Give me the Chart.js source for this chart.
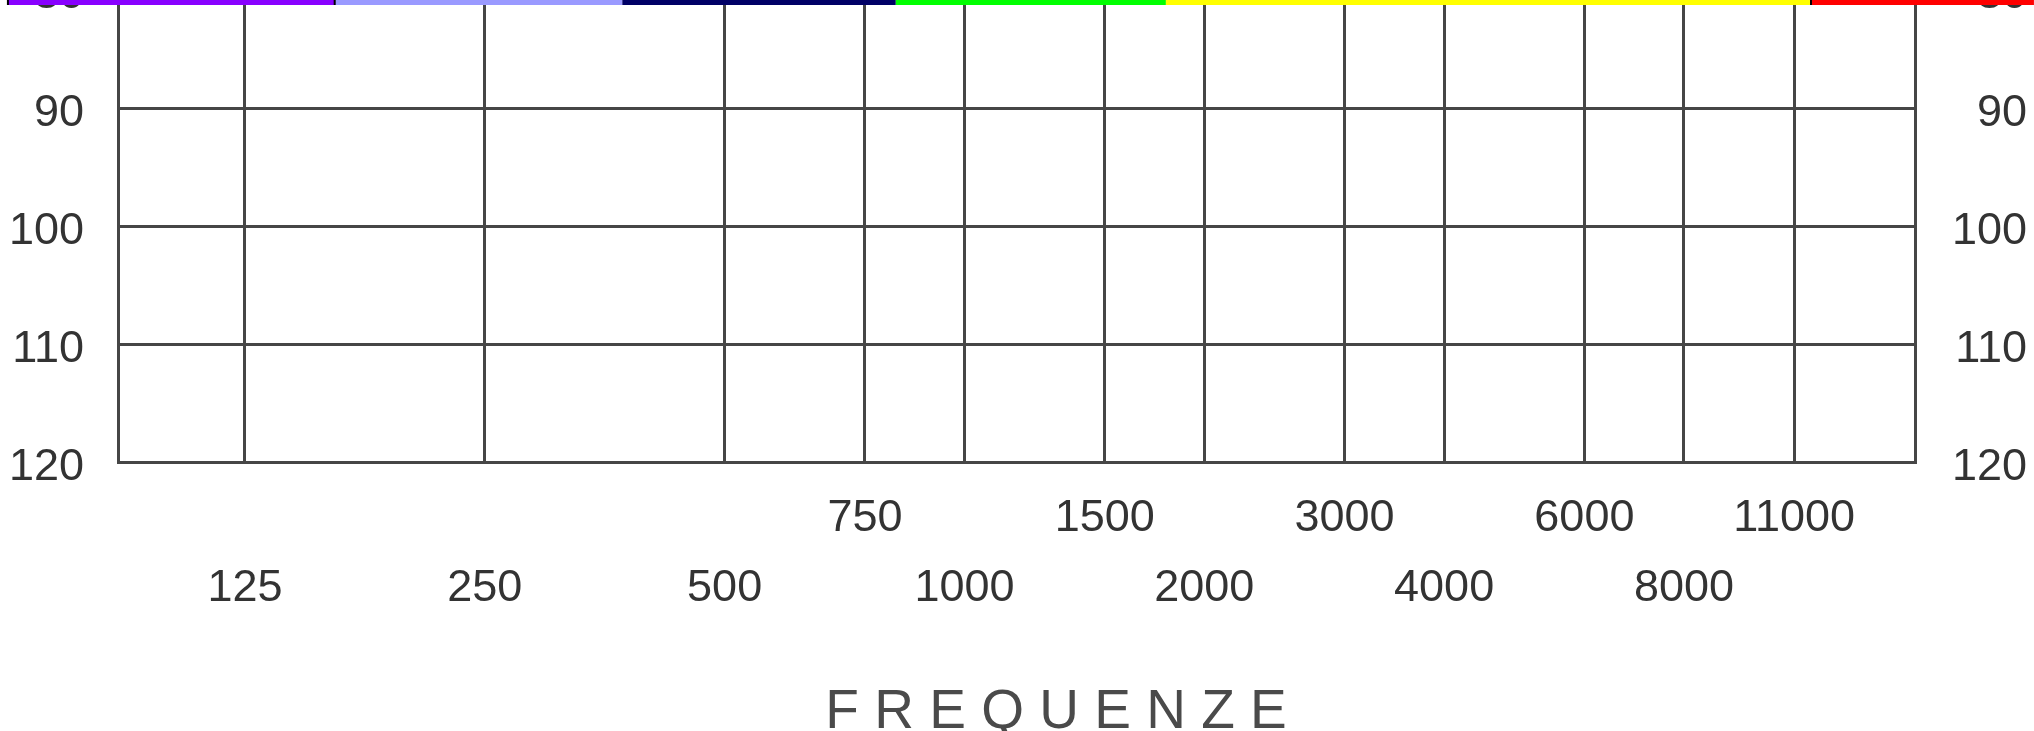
<!DOCTYPE html>
<html lang="it">

<head>
  <meta charset="UTF-8">
  <title>Audiogramma</title>
  <script src="https://cdn.jsdelivr.net/npm/chart.js"></script>
  <style>
    body { margin: 0; background: #ffffff; overflow: hidden; }
    /* the canvas is a bit taller than the window: the 80 dB line sits just above the top edge */
    #box { position: absolute; left: 0; top: -40px; width: 2034px; height: 811px; }
  </style>
</head>

<body>
  <div id="box">
    <canvas id="audiogramma" width="2034" height="811"></canvas>
  </div>

<script>
  // frequenze (Hz) con la loro linea verticale
  const frequenze = [125, 250, 500, 750, 1000, 1500, 2000, 3000, 4000, 6000, 8000, 11000];
  // queste vanno sulla riga di sopra, le altre sotto
  const rigaSopra = [750, 1500, 3000, 6000, 11000];
  // livelli (dB) sull'asse verticale
  const livelli = [80, 90, 100, 110, 120];

  // limiti dell'asse orizzontale (Hz)
  const freqMin = 86.6;
  const freqMax = 15600;

  // fasce colorate in alto: estremi in Hz
  const fasceEstremi = [63, 162, 372, 820, 1790, 11550, 22000];
  const fasceColori = ['#8800ff', '#9a9aff', '#000066', '#00ff00', '#ffff00', '#ff0000'];
  const fasceBordo = [true, true, false, false, false, true];

  const GRIGIO = '#464646';
  const TESTO = '#333333';

  Chart.defaults.font.family = '"Liberation Sans", Arial, Helvetica, sans-serif';

  // disegna la striscia delle fasce usando la scala x
  const fascePlugin = {
    id: 'fasce',
    afterDraw(chart, args, opts) {
      var ctx = chart.ctx;
      var x = chart.scales.x;
      ctx.save();
      for (let i = 0; i < fasceColori.length; i++) {
        var x0 = x.getPixelForValue(fasceEstremi[i]);
        var x1 = x.getPixelForValue(fasceEstremi[i + 1]);
        ctx.fillStyle = fasceColori[i];
        ctx.fillRect(x0, opts.y, x1 - x0, opts.altezza);
        if (fasceBordo[i]) {
          ctx.fillStyle = '#000000';
          ctx.fillRect(x0 - 1, opts.y, 2, opts.altezza);
        }
      }
      ctx.restore();
    }
  };

  function etichettaFreq(value) {
    if (rigaSopra.includes(value)) return [String(value), ''];
    return ['', String(value)];
  }

  // larghezza fissa degli assi y, senza il margine extra sopra/sotto
  function fissaAsseY(larghezza) {
    return scale => {
      scale.width = larghezza;
      scale.paddingTop = 0;
      scale.paddingBottom = 0;
    };
  }

  var ctx = document.getElementById('audiogramma').getContext('2d');

  new Chart(ctx, {
    type: 'line',
    data: { datasets: [] },
    plugins: [fascePlugin],
    options: {
      responsive: false,
      animation: false,
      devicePixelRatio: 1,
      layout: {
        padding: { top: 30, left: 85, right: 7, bottom: 25 }
      },
      scales: {
        x: {
          type: 'logarithmic',
          position: 'bottom',
          min: freqMin,
          max: freqMax,
          afterBuildTicks: scale => {
            scale.ticks = frequenze.map(v => ({ value: v }));
          },
          afterFit: scale => { scale.height = 160; },
          ticks: {
            autoSkip: false,
            maxRotation: 0,
            padding: 22,
            color: TESTO,
            font: { size: 45, lineHeight: 70 / 45 },
            callback: value => etichettaFreq(value)
          },
          grid: { color: GRIGIO, lineWidth: 3, drawTicks: false },
          border: { color: GRIGIO, width: 3 }
        },
        y: {
          type: 'linear',
          position: 'left',
          reverse: true,
          min: 80,
          max: 120,
          afterBuildTicks: scale => {
            scale.ticks = livelli.map(v => ({ value: v }));
          },
          afterFit: fissaAsseY(33),
          ticks: {
            // mirror evita il ritaglio delle etichette; il padding negativo le riporta a sinistra del bordo
            mirror: true,
            crossAlign: 'far',
            padding: -109,
            labelOffset: 6,
            color: TESTO,
            font: { size: 45 }
          },
          grid: { color: GRIGIO, lineWidth: 3, drawTicks: false },
          border: { color: GRIGIO, width: 3 }
        },
        y2: {
          type: 'linear',
          position: 'right',
          reverse: true,
          min: 80,
          max: 120,
          afterBuildTicks: scale => {
            scale.ticks = livelli.map(v => ({ value: v }));
          },
          afterFit: fissaAsseY(112),
          ticks: {
            crossAlign: 'far',
            labelOffset: 6,
            color: TESTO,
            font: { size: 45 }
          },
          grid: { display: false, drawTicks: false },
          border: { color: GRIGIO, width: 3 }
        }
      },
      plugins: {
        legend: { display: false },
        tooltip: { enabled: false },
        title: {
          display: true,
          position: 'bottom',
          text: 'F R E Q U E N Z E',
          color: '#4a4a4a',
          font: { size: 55, weight: 'normal', lineHeight: 1.2 },
          padding: { top: 58, bottom: 0 }
        },
        fasce: { y: 40, altezza: 5 }
      }
    }
  });
</script>
</body>

</html>
